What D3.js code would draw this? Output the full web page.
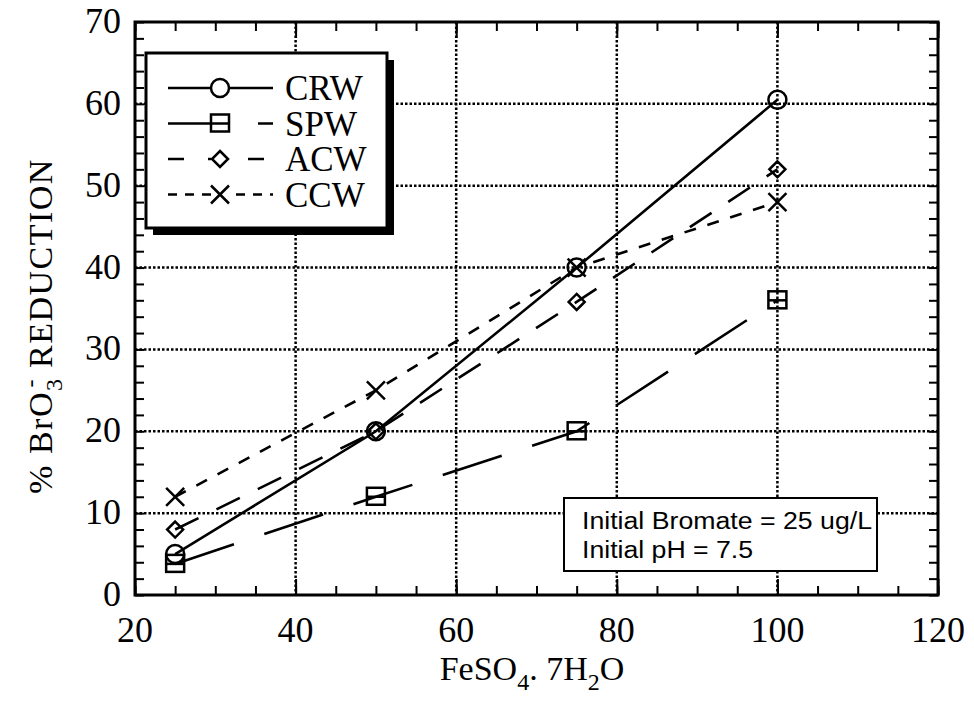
<!DOCTYPE html>
<html>
<head>
<meta charset="utf-8">
<script src="https://cdn.jsdelivr.net/npm/d3@7"></script>
<style>
body { margin: 0; background: #fff; }
text { fill: #000; }
</style>
</head>
<body>
<svg id="chart" width="974" height="701"></svg>
<script>
var doses = [25, 50, 75, 100];
var crw = [5, 20, 40, 60.5];
var spw = [3.8, 12, 20, 36];
var acw = [8, 20, 35.8, 52];
var ccw = [12, 25, 40, 48];
var seriesNames = ["CRW", "SPW", "ACW", "CCW"];
var xTicks = [20, 40, 60, 80, 100, 120];
var yTicks = [0, 10, 20, 30, 40, 50, 60, 70];
var noteLines = ["Initial Bromate = 25 ug/L", "Initial pH = 7.5"];

var pLeft = 135, pRight = 938, pTop = 22, pBottom = 595;
var serif = "'Liberation Serif', 'Times New Roman', serif";

var svg = d3.select("#chart");

var x = d3.scaleLinear().domain([20, 120]).range([pLeft, pRight]);
var y = d3.scaleLinear().domain([0, 70]).range([pBottom, pTop]);

// dotted grid
var grid = svg.append("g")
    .attr("stroke", "#000")
    .attr("stroke-width", 2.5)
    .attr("stroke-dasharray", "2.5,2");
grid.selectAll(".gx").data(xTicks.slice(1, -1)).enter().append("line")
    .attr("x1", d => x(d)).attr("x2", d => x(d))
    .attr("y1", pTop).attr("y2", pBottom);
grid.selectAll(".gy").data(yTicks.slice(1, -1)).enter().append("line")
    .attr("y1", d => y(d)).attr("y2", d => y(d))
    .attr("x1", pLeft).attr("x2", pRight);

// inward ticks on all four sides
var xMinor = d3.range(20, 121, 5);
var yMinor = d3.range(0, 71, 2);
var axes = svg.append("g").attr("class", "axes");

axes.append("g").attr("transform", "translate(0," + pBottom + ")")
    .call(d3.axisBottom(x).tickValues(xMinor).tickSizeInner(-9).tickSizeOuter(0).tickFormat(""));
axes.append("g").attr("transform", "translate(0," + pTop + ")")
    .call(d3.axisTop(x).tickValues(xMinor).tickSizeInner(-9).tickSizeOuter(0).tickFormat(""));
axes.append("g").attr("transform", "translate(" + pLeft + ",0)")
    .call(d3.axisLeft(y).tickValues(yMinor).tickSizeInner(-9).tickSizeOuter(0).tickFormat(""));
axes.append("g").attr("transform", "translate(" + pRight + ",0)")
    .call(d3.axisRight(y).tickValues(yMinor).tickSizeInner(-9).tickSizeOuter(0).tickFormat(""));
// longer major ticks
axes.append("g").attr("transform", "translate(0," + pBottom + ")")
    .call(d3.axisBottom(x).tickValues(xTicks).tickSizeInner(-16).tickSizeOuter(0).tickFormat(""));
axes.append("g").attr("transform", "translate(0," + pTop + ")")
    .call(d3.axisTop(x).tickValues(xTicks).tickSizeInner(-16).tickSizeOuter(0).tickFormat(""));
axes.selectAll("path.domain").remove();
axes.selectAll("line").attr("stroke", "#000").attr("stroke-width", 2);

svg.append("rect")
    .attr("x", pLeft).attr("y", pTop)
    .attr("width", pRight - pLeft).attr("height", pBottom - pTop)
    .attr("fill", "none").attr("stroke", "#000").attr("stroke-width", 3);

// tick labels
svg.append("g").selectAll("text").data(xTicks).enter().append("text")
    .attr("x", d => x(d)).attr("y", 642)
    .attr("text-anchor", "middle")
    .style("font-family", serif).style("font-size", "36px")
    .text(d => d);
svg.append("g").selectAll("text").data(yTicks).enter().append("text")
    .attr("x", 121).attr("y", d => y(d) + 11)
    .attr("text-anchor", "end")
    .style("font-family", serif).style("font-size", "36px")
    .text(d => d);

// axis titles
var xt = svg.append("text")
    .attr("x", 532).attr("y", 680)
    .attr("text-anchor", "middle")
    .style("font-family", serif).style("font-size", "34px");
xt.append("tspan").text("FeSO");
xt.append("tspan").attr("dy", 10).style("font-size", "24px").text("4");
xt.append("tspan").attr("dy", -10).text(". 7H");
xt.append("tspan").attr("dy", 10).style("font-size", "24px").text("2");
xt.append("tspan").attr("dy", -10).text("O");

var yt = svg.append("text")
    .attr("transform", "translate(52,326) rotate(-90)")
    .attr("text-anchor", "middle")
    .style("font-family", serif).style("font-size", "34px")
    .style("letter-spacing", "1.5px");
yt.append("tspan").text("% BrO");
yt.append("tspan").attr("dy", 10).style("font-size", "24px").text("3");
yt.append("tspan").attr("dx", -10).attr("dy", -24).style("font-size", "24px").text("-");
yt.append("tspan").attr("dy", 14).text(" REDUCTION");

// series
var series = [
    {name: seriesNames[0], values: crw, dash: null, marker: "circle"},
    {name: seriesNames[1], values: spw, dash: "62,32", marker: "square"},
    {name: seriesNames[2], values: acw, dash: "26,20", marker: "diamond"},
    {name: seriesNames[3], values: ccw, dash: "12,12", marker: "cross"}
];

var line = d3.line().x(d => x(d[0])).y(d => y(d[1]));

function drawMarker(g, type, cx, cy) {
    var m = g.append("g").attr("transform", "translate(" + cx + "," + cy + ")")
        .attr("fill", "none").attr("stroke", "#000").attr("stroke-width", 2.5);
    if (type == "circle") {
        m.append("circle").attr("r", 9);
    } else if (type == "square") {
        m.append("rect").attr("x", -9).attr("y", -9).attr("width", 18).attr("height", 17);
        m.append("line").attr("x1", -9).attr("x2", 9).attr("y1", 0).attr("y2", 0);
    } else if (type == "diamond") {
        m.append("path").attr("d", "M0,-8L8,0L0,8L-8,0Z");
    } else {
        m.append("path").attr("d", "M-9,-9L9,9M9,-9L-9,9");
    }
}

var plot = svg.append("g");
series.forEach(s => {
    var pts = doses.map((d, i) => [d, s.values[i]]);
    plot.append("path")
        .attr("d", line(pts))
        .attr("fill", "none")
        .attr("stroke", "#000")
        .attr("stroke-width", 2.6)
        .attr("stroke-dasharray", s.dash);
    pts.forEach(p => drawMarker(plot, s.marker, x(p[0]), y(p[1])));
});

// legend with drop shadow
var lg = svg.append("g");
lg.append("rect").attr("x", 153).attr("y", 60).attr("width", 241).attr("height", 175).attr("fill", "#000");
lg.append("rect").attr("x", 146).attr("y", 53).attr("width", 241).attr("height", 175)
    .attr("fill", "#fff").attr("stroke", "#000").attr("stroke-width", 3);
var legDash = [null, "60,30", "16,24", "9,8"];
series.forEach((s, i) => {
    var ly = 88 + i * 35.5;
    lg.append("line")
        .attr("x1", 168).attr("x2", 273).attr("y1", ly).attr("y2", ly)
        .attr("stroke", "#000").attr("stroke-width", 2.6)
        .attr("stroke-dasharray", legDash[i]);
    lg.append("rect").attr("x", 211).attr("y", ly - 11).attr("width", 18).attr("height", 22).attr("fill", "#fff");
    drawMarker(lg, s.marker, 220, ly);
    lg.append("text")
        .attr("x", 285).attr("y", ly + 12)
        .style("font-family", serif).style("font-size", "35px")
        .text(s.name);
});

// note box
var nb = svg.append("g");
nb.append("rect").attr("x", 564).attr("y", 498).attr("width", 313).attr("height", 73)
    .attr("fill", "#fff").attr("stroke", "#000").attr("stroke-width", 2);
nb.selectAll("text").data(noteLines).enter().append("text")
    .attr("x", 582).attr("y", (d, i) => 529 + i * 29)
    .style("font-family", "'Liberation Sans', Arial, sans-serif").style("font-size", "23px")
    .attr("textLength", (d, i) => i == 0 ? 290 : 171)
    .attr("lengthAdjust", "spacingAndGlyphs")
    .text(d => d);
</script>
</body>
</html>
